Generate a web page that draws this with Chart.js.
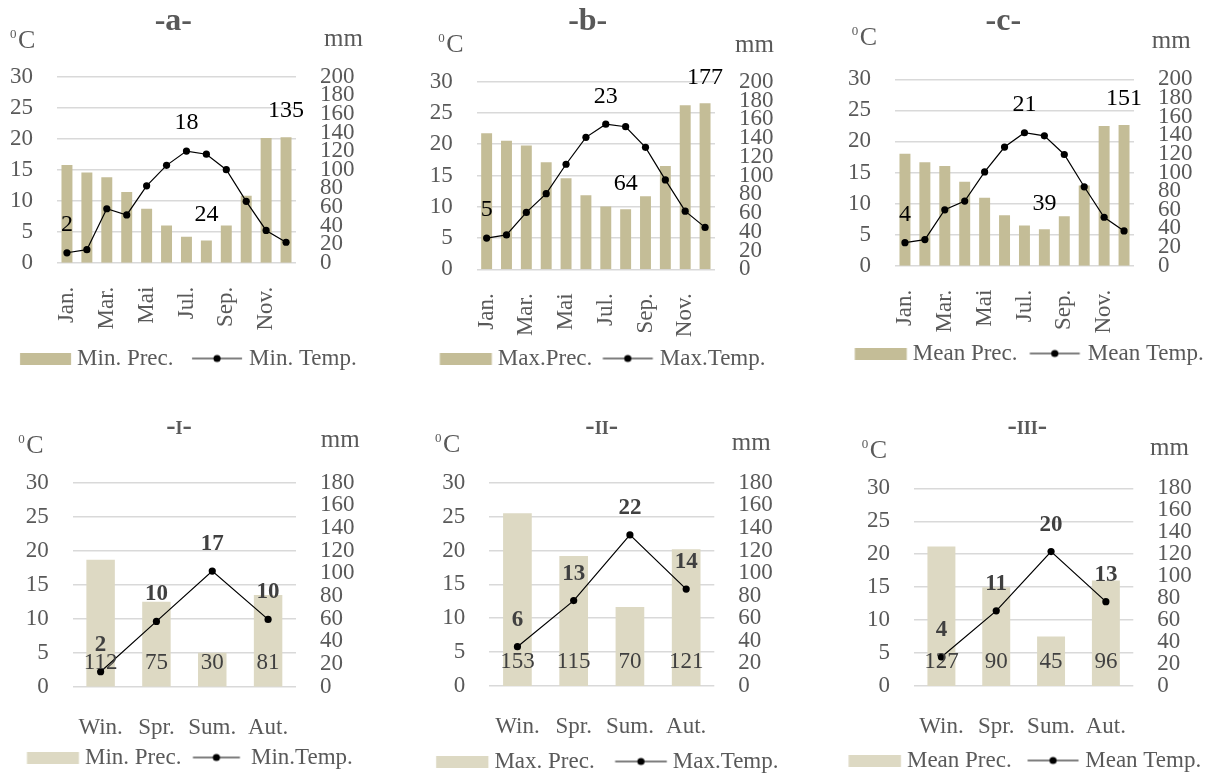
<!DOCTYPE html>
<html><head><meta charset="utf-8">
<script src="https://cdn.jsdelivr.net/npm/chart.js@4.4.1/dist/chart.umd.min.js"></script>
<style>
html,body{margin:0;padding:0;width:1212px;height:774px;overflow:hidden;background:#fff;position:relative;}
canvas{position:absolute;}
</style></head><body>
<canvas id="c_a"></canvas><canvas id="c_b"></canvas><canvas id="c_c"></canvas>
<canvas id="c_I"></canvas><canvas id="c_II"></canvas><canvas id="c_III"></canvas>
<script>
// ---------- data ----------
const months = ['Jan.','Feb.','Mar.','Apr.','Mai','Jun.','Jul.','Aug.','Sep.','Oct.','Nov.','Dec.'];
const seasons = ['Win.','Spr.','Sum.','Aut.'];

const minPrec  = [105, 97, 92, 76, 58, 40, 28, 24, 40, 72, 134, 135];
const minTemp  = [1.6, 2.1, 8.7, 7.7, 12.4, 15.7, 18.0, 17.5, 15.0, 9.9, 5.2, 3.3];
const maxPrec  = [145, 137, 132, 114, 97, 79, 67, 64, 78, 110, 175, 177];
const maxTemp  = [5.0, 5.5, 9.1, 12.1, 16.8, 21.1, 23.2, 22.8, 19.5, 14.3, 9.3, 6.7];
const meanPrec = [120, 111, 107, 90, 73, 54, 43, 39, 53, 86, 150, 151];
const meanTemp = [3.7, 4.2, 9.0, 10.4, 15.1, 19.1, 21.4, 20.9, 17.9, 12.7, 7.8, 5.6];

const seasMinPrec  = [112, 75, 30, 81];
const seasMinTemp  = [2.2, 9.6, 17.0, 9.9];
const seasMaxPrec  = [153, 115, 70, 121];
const seasMaxTemp  = [5.8, 12.6, 22.3, 14.3];
const seasMeanPrec = [127, 90, 45, 96];
const seasMeanTemp = [4.4, 11.4, 20.4, 12.8];

const tempTicks = {min: 0, max: 30, step: 5};
const precTicksMonthly = {min: 0, max: 200, step: 20};
const precTicksSeasonal = {min: 0, max: 180, step: 20};

// ---------- styles ----------
const FONT = "'Liberation Serif', 'Times New Roman', serif";
Chart.defaults.font.family = FONT;
const GRID = '#D9D9D9', TXT = '#595959', DARK = '#404040';
const BAR_DARK = '#C4BD97', BAR_LIGHT = '#DDD9C3';

// ---------- panels (layout) ----------
const panels = [
  {id:'a', title:'-a-', cats:months, prec:minPrec, temp:minTemp, precName:'Min. Prec.', tempName:'Min. Temp.', pt:precTicksMonthly, monthly:true, bar:BAR_DARK,
   L:0, T:0, plot:{l:57, r:296, t:76.7, b:262.7}, xH:73, xPad:24,
   lg:{sw1:20, t1:77, sw2:192, sw2e:242, t2:249, y:358}, titleXY:[173.3,30], cXY:[10,48.3], mmXY:[324,46]},
  {id:'b', title:'-b-', cats:months, prec:maxPrec, temp:maxTemp, precName:'Max.Prec.', tempName:'Max.Temp.', pt:precTicksMonthly, monthly:true, bar:BAR_DARK,
   L:400, T:0, plot:{l:476.7, r:715, t:81.7, b:269.3}, xH:73, xPad:24,
   lg:{sw1:440, t1:498, sw2:603, sw2e:653, t2:660, y:358}, titleXY:[587.7,30], cXY:[438.3,51.7], mmXY:[735,51.7]},
  {id:'c', title:'-c-', cats:months, prec:meanPrec, temp:meanTemp, precName:'Mean Prec.', tempName:'Mean Temp.', pt:precTicksMonthly, monthly:true, bar:BAR_DARK,
   L:810, T:0, plot:{l:895, r:1134, t:79.3, b:265.7}, xH:73, xPad:24,
   lg:{sw1:855, t1:913, sw2:1030, sw2e:1080, t2:1088, y:353}, titleXY:[1003.3,29.5], cXY:[851.7,45], mmXY:[1151.7,48.3]},
  {id:'I', title:'-I-', cats:seasons, prec:seasMinPrec, temp:seasMinTemp, precName:'Min. Prec.', tempName:'Min.Temp.', pt:precTicksSeasonal, monthly:false, bar:BAR_LIGHT,
   L:0, T:400, plot:{l:72.7, r:296, t:482.7, b:686.7}, xH:57, xPad:27,
   lg:{sw1:27, t1:85, sw2:193, sw2e:240, t2:251, y:757}, titleXY:[179,433.5], cXY:[18.3,453.3], mmXY:[320.7,446.7]},
  {id:'II', title:'-II-', cats:seasons, prec:seasMaxPrec, temp:seasMaxTemp, precName:'Max. Prec.', tempName:'Max.Temp.', pt:precTicksSeasonal, monthly:false, bar:BAR_LIGHT,
   L:400, T:400, plot:{l:489.3, r:714.3, t:482.7, b:686}, xH:57, xPad:27,
   lg:{sw1:436, t1:494.3, sw2:615, sw2e:666.7, t2:672.7, y:761.7}, titleXY:[601.7,433.5], cXY:[435,452.3], mmXY:[731.7,450]},
  {id:'III', title:'-III-', cats:seasons, prec:seasMeanPrec, temp:seasMeanTemp, precName:'Mean Prec.', tempName:'Mean Temp.', pt:precTicksSeasonal, monthly:false, bar:BAR_LIGHT,
   L:810, T:400, plot:{l:914, r:1133.3, t:488.3, b:686}, xH:57, xPad:27,
   lg:{sw1:848.3, t1:906.7, sw2:1027.3, sw2e:1078.3, t2:1085, y:760}, titleXY:[1027.3,433.5], cXY:[861.7,458.3], mmXY:[1150,455]}
];

// ---------- legend geometry & swatches ----------
const LEG_FONT = 23;
const meas = document.createElement('canvas').getContext('2d');
meas.font = LEG_FONT + 'px ' + FONT;

function legendGeom(p) {
  const half = LEG_FONT / 2;
  const tw1 = meas.measureText(p.precName).width, tw2 = meas.measureText(p.tempName).width;
  const lg = p.lg;
  const legendTop = p.plot.b + p.xH;
  const pad = Math.max(1, lg.y - half - legendTop);
  const bw = lg.t2 - lg.t1 - half - tw1 - pad;
  const box1 = lg.t1 - bw - half, box2 = lg.t2 - bw - half;
  const iw1 = bw + half + tw1, iw2 = bw + half + tw2;
  const W = Math.round(2 * (box1 - p.L) + iw1 + iw2 + pad);
  const H = Math.round(legendTop + LEG_FONT + pad + 10 - p.T);
  return {pad, bw, a1: lg.sw1 - box1, len1: lg.t1 - 6 - lg.sw1, a2: lg.sw2 - box2, len2: lg.sw2e - lg.sw2, W, H};
}

function makeSwatch(kind, color, a, len, bw) {
  const c0 = bw / 2;
  const half = Math.ceil(Math.max(Math.abs(c0 - a), Math.abs(a + len - c0))) + 2;
  const c = document.createElement('canvas');
  c.width = 2 * half; c.height = kind === 'bar' ? 12 : 10;
  const g = c.getContext('2d');
  const off = a - (c0 - half);
  if (kind === 'bar') {
    g.fillStyle = color; g.fillRect(off, 0, len, 12);
  } else {
    g.strokeStyle = '#000'; g.lineWidth = 1.2;
    g.beginPath(); g.moveTo(off, 5); g.lineTo(off + len, 5); g.stroke();
    g.fillStyle = '#000'; g.beginPath(); g.arc(off + len / 2, 5, 3.6, 0, Math.PI * 2); g.fill();
  }
  return c;
}

function drawTitle(ctx, text, cx, base, monthly) {
  const big = 'bold ' + (monthly ? 32 : 28) + 'px ' + FONT;
  const small = 'bold 18px ' + FONT;
  const parts = text.split('').map(ch => ({ch, font: ch === 'I' ? small : big}));
  let total = 0;
  parts.forEach(pt => { ctx.font = pt.font; pt.w = ctx.measureText(pt.ch).width; total += pt.w; });
  let x = cx - total / 2;
  ctx.textAlign = 'left'; ctx.textBaseline = 'alphabetic'; ctx.fillStyle = TXT;
  parts.forEach(pt => { ctx.font = pt.font; ctx.fillText(pt.ch, x, base); x += pt.w; });
}

function decorPlugin(p) {
  return {
    id: 'decor_' + p.id,
    afterDraw(chart) {
      const ctx = chart.ctx;
      ctx.save();
      drawTitle(ctx, p.title, p.titleXY[0] - p.L, p.titleXY[1] - p.T, p.monthly);
      ctx.fillStyle = TXT; ctx.textAlign = 'left'; ctx.textBaseline = 'alphabetic';
      const cx = p.cXY[0] - p.L, cy = p.cXY[1] - p.T;
      ctx.font = '13px ' + FONT; ctx.fillText('0', cx, cy - 10);
      ctx.font = '26px ' + FONT; ctx.fillText('C', cx + 8, cy);
      ctx.font = '25px ' + FONT; ctx.fillText('mm', p.mmXY[0] - p.L, p.mmXY[1] - p.T);
      const xs = chart.scales.x, yt = chart.scales.y, yp = chart.scales.y1;
      ctx.textAlign = 'center'; ctx.textBaseline = 'middle';
      if (p.monthly) {
        const idx = (arr, f) => arr.indexOf(f(...arr));
        ctx.font = '24px ' + FONT; ctx.fillStyle = '#000';
        [idx(p.temp, Math.min), idx(p.temp, Math.max)].forEach(i =>
          ctx.fillText(String(Math.round(p.temp[i])), xs.getPixelForValue(i), yt.getPixelForValue(p.temp[i]) - 28));
        [idx(p.prec, Math.min), idx(p.prec, Math.max)].forEach(i =>
          ctx.fillText(String(Math.round(p.prec[i])), xs.getPixelForValue(i), yp.getPixelForValue(p.prec[i]) - 26));
      } else {
        ctx.fillStyle = DARK;
        ctx.font = '23px ' + FONT;
        p.prec.forEach((v, i) => ctx.fillText(String(Math.round(v)), xs.getPixelForValue(i), yp.getPixelForValue(0) - 24));
        ctx.font = 'bold 23px ' + FONT;
        p.temp.forEach((v, i) => ctx.fillText(String(Math.round(v)), xs.getPixelForValue(i), yt.getPixelForValue(v) - 27));
      }
      ctx.restore();
    }
  };
}

panels.forEach(p => {
  const g = legendGeom(p);
  const cv = document.getElementById('c_' + p.id);
  cv.width = g.W; cv.height = g.H;
  cv.style.left = p.L + 'px'; cv.style.top = p.T + 'px';
  const legendH = LEG_FONT + g.pad + 10;
  const xH = (p.T + g.H - legendH) - p.plot.b;
  const tickFont = {size: 23, family: FONT};
  const sw1 = makeSwatch('bar', p.bar, g.a1, g.len1, g.bw);
  const sw2 = makeSwatch('line', '#000', g.a2, g.len2, g.bw);
  new Chart(cv, {
    type: 'bar',
    data: {
      labels: p.cats,
      datasets: [
        {type: 'bar', label: p.precName, data: p.prec, yAxisID: 'y1', backgroundColor: p.bar,
         categoryPercentage: 1, barPercentage: p.monthly ? 0.55 : 0.51, order: 2},
        {type: 'line', label: p.tempName, data: p.temp, yAxisID: 'y', borderColor: '#000', borderWidth: 1.2,
         pointRadius: 3.6, pointBackgroundColor: '#000', pointBorderWidth: 0, tension: 0, order: 1}
      ]
    },
    options: {
      responsive: false, animation: false, events: [],
      layout: {padding: {top: p.plot.t - p.T, left: 0, right: 0, bottom: 0}},
      scales: {
        x: {
          ticks: {autoSkip: false, maxRotation: p.monthly ? 90 : 0, minRotation: p.monthly ? 90 : 0, padding: p.xPad,
                  color: TXT, font: tickFont,
                  callback: (v, i) => (p.monthly && i % 2) ? '' : p.cats[i]},
          grid: {display: false, drawTicks: false}, border: {display: false},
          afterFit: s => { s.height = xH; }
        },
        y: {
          position: 'left', min: tempTicks.min, max: tempTicks.max,
          ticks: {stepSize: tempTicks.step, autoSkip: false, padding: 24, color: TXT, font: tickFont},
          grid: {color: GRID, lineWidth: 1.5, drawTicks: false}, border: {display: false},
          afterFit: s => { s.width = p.plot.l - p.L; }
        },
        y1: {
          position: 'right', min: p.pt.min, max: p.pt.max,
          ticks: {stepSize: p.pt.step, autoSkip: false, padding: 24, color: TXT, font: tickFont},
          grid: {display: false, drawTicks: false}, border: {display: false},
          afterFit: s => { s.width = p.L + g.W - p.plot.r; }
        }
      },
      plugins: {
        tooltip: {enabled: false},
        title: {display: false},
        legend: {
          position: 'bottom',
          labels: {
            usePointStyle: true, pointStyleWidth: g.bw, padding: g.pad, color: TXT, font: {size: LEG_FONT, family: FONT},
            generateLabels: () => [
              {text: p.precName, fillStyle: p.bar, strokeStyle: p.bar, lineWidth: 0, pointStyle: sw1,
               hidden: false, datasetIndex: 0, fontColor: TXT},
              {text: p.tempName, fillStyle: '#000', strokeStyle: '#000', lineWidth: 0, pointStyle: sw2,
               hidden: false, datasetIndex: 1, fontColor: TXT}
            ]
          }
        }
      }
    },
    plugins: [decorPlugin(p)]
  });
});
</script>
</body></html>
